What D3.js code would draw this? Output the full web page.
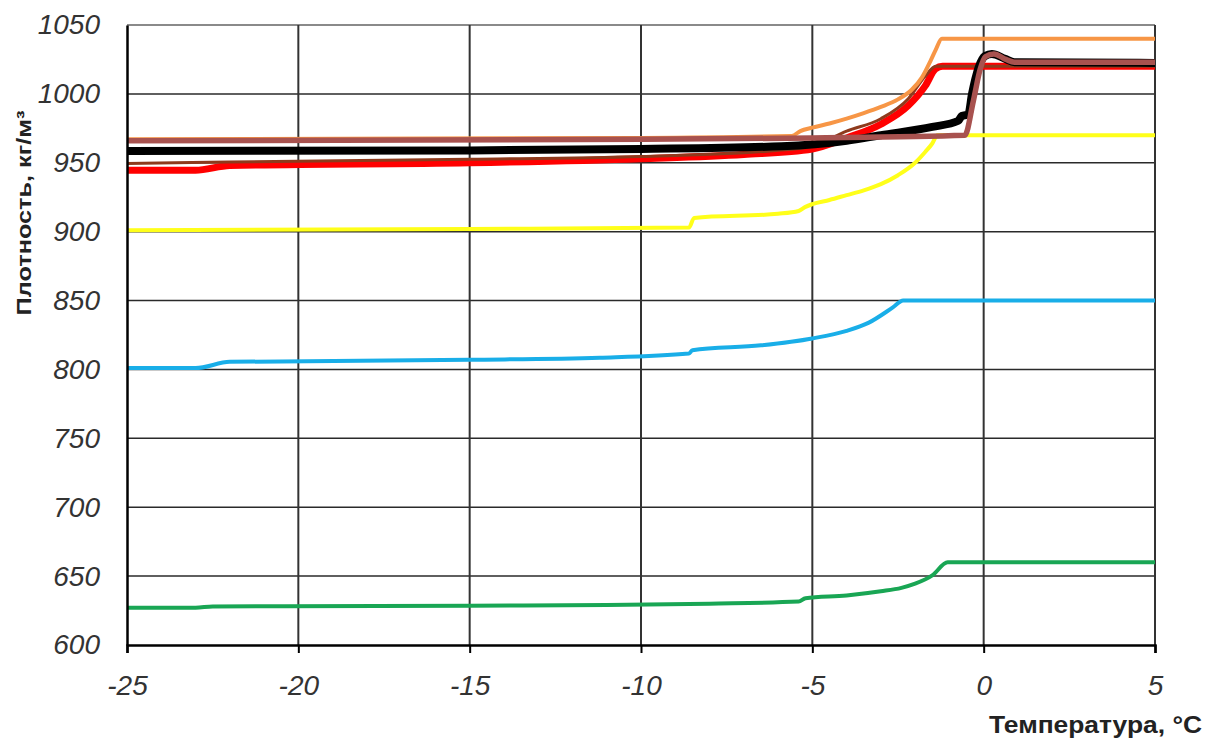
<!DOCTYPE html>
<html>
<head>
<meta charset="utf-8">
<script src="https://cdn.jsdelivr.net/npm/d3@7"></script>
<style>
  html, body { margin: 0; padding: 0; background: #fff; }
  svg { display: block; }
</style>
</head>
<body>
<script>
// density curves, [temperature °C, density kg/m3]
const green = [[-25,627],[-23,627],[-22.5,628],[-15,628.5],[-11,629],[-8,630],[-5.4,631.5],[-5.2,634],[-4,636],[-3,639],[-2.4,641.5],[-2,644.5],[-1.5,650.5],[-1.05,660],[5,660]];
const blue = [[-25,801],[-23,801],[-22,805.5],[-15,807],[-11.2,808.5],[-8.6,811.5],[-8.5,814],[-6.5,817.5],[-5,822.5],[-4,828],[-3.35,834],[-2.65,845],[-2.35,850],[5,850]];
const yellow = [[-25,901],[-15,902],[-8.6,903],[-8.45,910],[-6,913],[-5.4,915],[-5.2,918],[-5,920],[-4.5,923],[-4,926.5],[-3.5,930],[-3,934.5],[-2.5,941],[-2,950],[-1.7,958],[-1.5,964],[-1.35,970],[5,970]];
const red = [[-25,944.5],[-23,944.5],[-22,948],[-15,950],[-10,953],[-7,956],[-5,960],[-4,968],[-3,978],[-2.2,991.5],[-1.7,1006],[-1.41,1018],[-1.2,1020],[5,1020]];
const darkBrown = [[-25,949.5],[-22,950.5],[-15,952.5],[-10,954.5],[-6,959],[-5,962],[-4,973],[-3,982],[-2.2,996.5],[-1.7,1013],[-1.4,1020],[5,1020]];
const orange = [[-25,967],[-10,968],[-5.6,969.5],[-5.35,973],[-5,975.5],[-4.5,978.5],[-4,982],[-3.5,986],[-3,990.5],[-2.5,996],[-2.1,1003],[-1.8,1012],[-1.55,1024],[-1.4,1032],[-1.22,1040],[5,1040]];
const black = [[-25,958.5],[-15,959],[-10,960],[-5.9,962],[-4,966],[-3,970],[-1.5,976],[-0.74,980.5],[-0.64,984],[-0.45,985],[-0.34,1000],[-0.15,1019],[0.04,1027.5],[0.24,1029],[0.62,1025.5],[0.9,1023],[5,1022.5]];
const mutedRed = [[-25,966],[-10,967],[-5,968],[-0.55,970],[-0.3,995],[-0.1,1018],[0.05,1027],[0.3,1029],[0.65,1025],[0.9,1023],[5,1023]];

const xTicks = [-25, -20, -15, -10, -5, 0, 5];
const yTicks = [600, 650, 700, 750, 800, 850, 900, 950, 1000, 1050];

const series = [
  { data: green, color: "#19a654", w: 4 },
  { data: blue, color: "#19aee8", w: 4 },
  { data: yellow, color: "#ffff1a", w: 4 },
  { data: red, color: "#ff0000", w: 7 },
  { data: darkBrown, color: "#8e3a1c", w: 3 },
  { data: orange, color: "#f79646", w: 4 },
  { data: black, color: "#000000", w: 8 },
  { data: mutedRed, color: "#a8524f", w: 5.5 }
];

const width = 1216, height = 740;
const plotLeft = 127, plotRight = 1155, plotTop = 25, plotBottom = 645;

const svg = d3.select("body").append("svg")
  .attr("width", width)
  .attr("height", height);

const x = d3.scaleLinear().domain([-25, 5]).range([plotLeft, plotRight]);
const y = d3.scaleLinear().domain([600, 1050]).range([plotBottom, plotTop]);

// grid
svg.append("g")
  .selectAll("line")
  .data(yTicks.slice(1, -1))
  .join("line")
  .attr("x1", plotLeft).attr("x2", plotRight)
  .attr("y1", d => y(d)).attr("y2", d => y(d))
  .attr("stroke", "#2a2a2a").attr("stroke-width", 1.5);

svg.append("line")
  .attr("x1", plotLeft).attr("x2", plotRight)
  .attr("y1", y(1050)).attr("y2", y(1050))
  .attr("stroke", "#8a8a8a").attr("stroke-width", 2);

svg.append("g")
  .selectAll("line")
  .data(xTicks.slice(1))
  .join("line")
  .attr("x1", d => x(d)).attr("x2", d => x(d))
  .attr("y1", plotTop).attr("y2", plotBottom)
  .attr("stroke", "#333").attr("stroke-width", 2);

// lines
const line = d3.line()
  .x(d => x(d[0]))
  .y(d => y(d[1]))
  .curve(d3.curveMonotoneX);

svg.append("g")
  .selectAll("path")
  .data(series)
  .join("path")
  .attr("d", d => line(d.data))
  .attr("fill", "none")
  .attr("stroke", d => d.color)
  .attr("stroke-width", d => d.w)
  .attr("stroke-linejoin", "round")
  .attr("stroke-linecap", "butt");

// axes
const labelFont = "italic 28px 'Liberation Sans', Arial, sans-serif";

const xAxis = svg.append("g")
  .attr("transform", `translate(0,${plotBottom})`)
  .call(d3.axisBottom(x).tickValues(xTicks).tickSize(8).tickFormat(d => String(d)));
xAxis.select(".domain").attr("stroke", "#000").attr("stroke-width", 2.5);
xAxis.selectAll(".tick line").attr("stroke", "#000").attr("stroke-width", 2);
xAxis.selectAll(".tick text")
  .attr("dy", 0).attr("y", 50)
  .attr("fill", "#333")
  .style("font", labelFont);

const yAxis = svg.append("g")
  .attr("transform", `translate(${plotLeft},0)`)
  .call(d3.axisLeft(y).tickValues(yTicks).tickSize(0).tickPadding(27).tickFormat(d => String(d)));
yAxis.select(".domain").attr("stroke", "#000").attr("stroke-width", 2.5);
yAxis.selectAll(".tick text")
  .attr("fill", "#333")
  .style("font", labelFont);

// titles
svg.append("text")
  .attr("transform", `translate(31,213) rotate(-90)`)
  .attr("text-anchor", "middle")
  .attr("fill", "#222")
  .attr("textLength", 205)
  .attr("lengthAdjust", "spacingAndGlyphs")
  .style("font", "bold 20px 'Liberation Sans', Arial, sans-serif")
  .text("Плотность, кг/м³");

svg.append("text")
  .attr("x", 1202).attr("y", 733)
  .attr("text-anchor", "end")
  .attr("fill", "#222")
  .attr("textLength", 213)
  .attr("lengthAdjust", "spacingAndGlyphs")
  .style("font", "bold 23px 'Liberation Sans', Arial, sans-serif")
  .text("Температура, °C");
</script>
</body>
</html>
